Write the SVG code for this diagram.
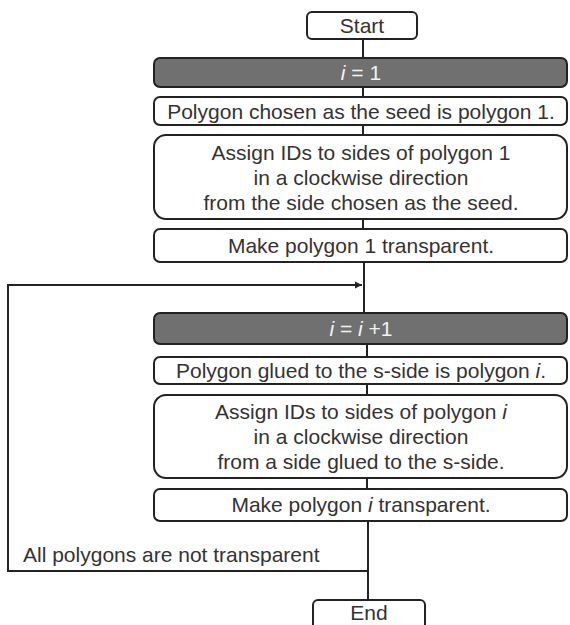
<svg xmlns="http://www.w3.org/2000/svg" width="570" height="625" viewBox="0 0 570 625">
<defs>
<style>
.box{fill:#fff;stroke:#222;stroke-width:2}
.bar{fill:#707070;stroke:#222;stroke-width:2}
.t{font-family:"Liberation Sans",Arial,sans-serif;font-size:21px;fill:#333;text-anchor:middle}
.tw{font-family:"Liberation Sans",Arial,sans-serif;font-size:21px;fill:#f2f2f2;text-anchor:middle}
.it{font-style:italic}
.ln{fill:none;stroke:#222;stroke-width:2}
</style>
<marker id="arr" markerWidth="8" markerHeight="8" refX="7" refY="4" orient="auto" markerUnits="userSpaceOnUse">
<path d="M0,0.5 L7,4 L0,7.5 Z" fill="#222"/>
</marker>
</defs>
<g id="connectors">
<line class="ln" x1="363" y1="39" x2="363" y2="58"/>
<line class="ln" x1="363" y1="87" x2="363" y2="97"/>
<line class="ln" x1="363" y1="125" x2="363" y2="135"/>
<line class="ln" x1="363" y1="219" x2="363" y2="229"/>
<line class="ln" x1="364" y1="262" x2="364" y2="313"/>
<line class="ln" x1="367" y1="344" x2="367" y2="357"/>
<line class="ln" x1="367" y1="384" x2="367" y2="395"/>
<line class="ln" x1="367" y1="478" x2="367" y2="489"/>
<line class="ln" x1="368" y1="521" x2="368" y2="600"/>
<polyline class="ln" points="368,571 8,571 8,285 362,285" marker-end="url(#arr)"/>
<text class="t" x="23" y="562" style="text-anchor:start">All polygons are not transparent</text>
</g>
<g id="start">
<rect class="box" x="307" y="12" width="110" height="27" rx="5"/>
<text class="t" x="362" y="33">Start</text>
</g>
<g id="init">
<rect class="bar" x="154" y="58" width="413" height="29" rx="6"/>
<text class="tw" x="361" y="80"><tspan class="it">i</tspan> = 1</text>
</g>
<g id="seed">
<rect class="box" x="154" y="97" width="413" height="28" rx="6"/>
<text class="t" x="361" y="119">Polygon chosen as the seed is polygon 1.</text>
</g>
<g id="assign1">
<rect class="box" x="154" y="135" width="413" height="84" rx="12"/>
<text class="t" x="361" y="160">Assign IDs to sides of polygon 1</text>
<text class="t" x="361" y="185">in a clockwise direction</text>
<text class="t" x="361" y="210">from the side chosen as the seed.</text>
</g>
<g id="transp1">
<rect class="box" x="154" y="229" width="413" height="33" rx="6"/>
<text class="t" x="361" y="253">Make polygon 1 transparent.</text>
</g>
<g id="incr">
<rect class="bar" x="154" y="313" width="413" height="31" rx="6"/>
<text class="tw" x="361" y="336"><tspan class="it">i</tspan> = <tspan class="it">i</tspan> +1</text>
</g>
<g id="glued">
<rect class="box" x="154" y="357" width="413" height="27" rx="6"/>
<text class="t" x="361" y="378">Polygon glued to the s-side is polygon <tspan class="it">i</tspan>.</text>
</g>
<g id="assign2">
<rect class="box" x="154" y="395" width="413" height="83" rx="12"/>
<text class="t" x="361" y="419">Assign IDs to sides of polygon <tspan class="it">i</tspan></text>
<text class="t" x="361" y="444">in a clockwise direction</text>
<text class="t" x="361" y="469">from a side glued to the s-side.</text>
</g>
<g id="transp2">
<rect class="box" x="154" y="489" width="413" height="32" rx="6"/>
<text class="t" x="361" y="512">Make polygon <tspan class="it">i</tspan> transparent.</text>
</g>
<g id="end">
<rect class="box" x="313" y="600" width="112" height="35" rx="5"/>
<text class="t" x="369" y="620">End</text>
</g>
</svg>
